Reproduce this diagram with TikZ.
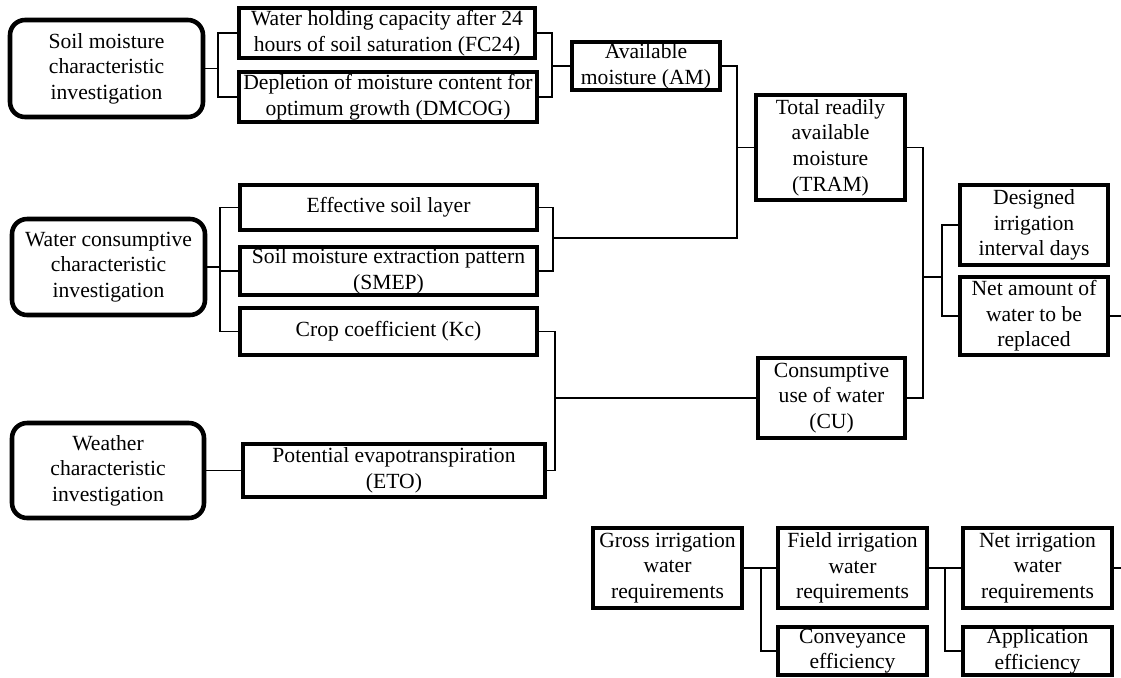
\documentclass[tikz,border=0pt]{standalone}
\usepackage{fontspec}
\setmainfont{Liberation Serif}
\begin{document}
\begin{tikzpicture}[x=0.02cm,y=-0.02cm]

\definecolor{lcolor}{HTML}{000000}

\tikzstyle{boxfont}=[font=\fontsize{12.3}{14.6}\selectfont]
\tikzstyle{investbox}=[boxfont, draw=lcolor, line width=2.6pt, rounded corners=0.3cm, align=center, inner sep=0pt]
\tikzstyle{parambox}=[boxfont, draw=lcolor, line width=1.8pt, align=center, inner sep=0pt]
\tikzstyle{link}=[line width=0.8pt, color=lcolor]

%\draw[help lines] (0,0) grid (1121,677);
\useasboundingbox (0,0) rectangle (1121,677);

% investigations
\node[investbox, minimum width=3.86cm, minimum height=1.94cm] (soil) at (106.5, 68.5) {Soil moisture\\characteristic\\investigation};
\node[investbox, minimum width=3.86cm, minimum height=1.92cm] (water) at (108.5, 267) {Water consumptive\\characteristic\\investigation};
\node[investbox, minimum width=3.84cm, minimum height=1.90cm] (weather) at (108, 470.5) {Weather\\characteristic\\investigation};

% parameters
\node[parambox, minimum width=5.92cm, minimum height=1.00cm] (fc) at (387, 33) {Water holding capacity after 24\\hours of soil saturation (FC24)};
\node[parambox, minimum width=5.96cm, minimum height=1.00cm] (dmcog) at (388, 97) {Depletion of moisture content for\\optimum growth (DMCOG)};
\node[parambox, minimum width=5.94cm, minimum height=0.90cm] (esl) at (388.5, 207.5) {Effective soil layer};
\node[parambox, minimum width=5.94cm, minimum height=0.96cm] (smep) at (388.5, 271) {Soil moisture extraction pattern\\(SMEP)};
\node[parambox, minimum width=5.94cm, minimum height=0.94cm] (kc) at (388.5, 331.5) {Crop coefficient (Kc)};
\node[parambox, minimum width=6.04cm, minimum height=1.06cm] (eto) at (394, 470.5) {Potential evapotranspiration\\(ETO)};

% moisture and use
\node[parambox, minimum width=2.96cm, minimum height=0.96cm] (am) at (646, 66) {Available\\moisture (AM)};
\node[parambox, minimum width=2.98cm, minimum height=2.10cm] (tram) at (830.5, 147.5) {Total readily\\available\\moisture\\(TRAM)};
\node[parambox, minimum width=2.94cm, minimum height=1.60cm] (cu) at (831.5, 398) {Consumptive\\use of water\\(CU)};
\node[parambox, minimum width=2.96cm, minimum height=1.60cm] (dig) at (1034, 225) {Designed\\irrigation\\interval days};
\node[parambox, minimum width=2.96cm, minimum height=1.56cm] (nar) at (1034, 316) {Net amount of\\water to be\\replaced};

% requirements
\node[parambox, minimum width=2.98cm, minimum height=1.60cm] (gross) at (667.5, 568) {Gross irrigation\\water\\requirements};
\node[parambox, minimum width=2.98cm, minimum height=1.60cm] (field) at (852.5, 568) {Field irrigation\\water\\requirements};
\node[parambox, minimum width=2.98cm, minimum height=1.60cm] (netirr) at (1037.5, 568) {Net irrigation\\water\\requirements};
\node[parambox, minimum width=2.98cm, minimum height=0.96cm] (conv) at (852.5, 651) {Conveyance\\efficiency};
\node[parambox, minimum width=2.98cm, minimum height=0.96cm] (appl) at (1037.5, 651) {Application\\efficiency};

% junctions
\coordinate (jsoil) at (218, 68.5);
\coordinate (jwater) at (220, 267);
\coordinate (jam) at (552, 66);
\coordinate (jesl) at (553, 238);
\coordinate (jtop) at (737, 66);
\coordinate (jcu) at (555, 398);
\coordinate (jout) at (923, 277);
\coordinate (jdes) at (942, 277);
\coordinate (jconv) at (761, 568);
\coordinate (jappl) at (945, 568);
\coordinate (nartail) at (1121, 316);
\coordinate (netirrtail) at (1121, 568);

% connectors
\draw[link] (soil.east) -- (jsoil);
\draw[link] (jsoil) |- (fc.west);
\draw[link] (jsoil) |- (dmcog.west);
\draw[link] (water.east) -- (jwater);
\draw[link] (jwater) |- (esl.west);
\draw[link] (jwater) |- (smep.west);
\draw[link] (jwater) |- (kc.west);
\draw[link] (weather.east) -- (eto.west);

\draw[link] (fc.east) -| (jam);
\draw[link] (dmcog.east) -| (jam);
\draw[link] (jam) -- (am.west);
\draw[link] (esl.east) -| (jesl);
\draw[link] (smep.east) -| (jesl);
\draw[link] (jesl) -| (jtop) -- (am.east);
\draw[link] (tram.west) -- (tram.west -| jtop);
\draw[link] (kc.east) -| (jcu);
\draw[link] (eto.east) -| (jcu);
\draw[link] (jcu) -- (cu.west);

\draw[link] (tram.east) -| (jout);
\draw[link] (cu.east) -| (jout);
\draw[link] (jout) -- (jdes);
\draw[link] (jdes) |- (dig.west);
\draw[link] (jdes) |- (nar.west);
\draw[link] (nar.east) -- (nartail);

\draw[link] (gross.east) -- (field.west);
\draw[link] (jconv) |- (conv.west);
\draw[link] (field.east) -- (netirr.west);
\draw[link] (jappl) |- (appl.west);
\draw[link] (netirr.east) -- (netirrtail);

\end{tikzpicture}
\end{document}
